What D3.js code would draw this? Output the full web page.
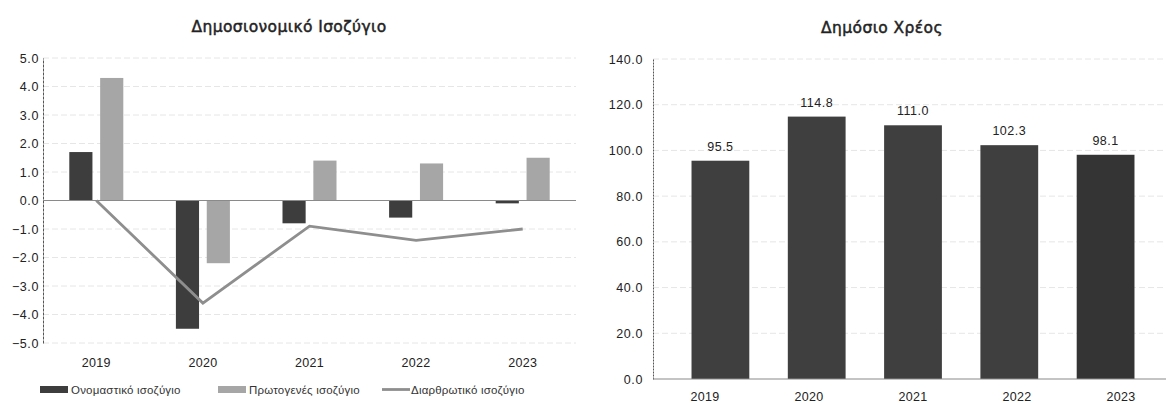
<!DOCTYPE html>
<html>
<head>
<meta charset="utf-8">
<script src="https://cdn.jsdelivr.net/npm/d3@7"></script>
<style>
  html, body { margin: 0; padding: 0; background: #fff; }
  svg { display: block; }
</style>
</head>
<body>
<svg id="chart" width="1166" height="403"></svg>
<script>
// ---- data ----
const years = ["2019", "2020", "2021", "2022", "2023"];
const nominalBalance = [1.7, -4.5, -0.8, -0.6, -0.1];
const primaryBalance = [4.3, -2.2, 1.4, 1.3, 1.5];
const structuralBalance = [0.0, -3.6, -0.9, -1.4, -1.0];
const publicDebt = [95.5, 114.8, 111.0, 102.3, 98.1];
const balanceTicks = [-5, -4, -3, -2, -1, 0, 1, 2, 3, 4, 5];
const debtTicks = [0, 20, 40, 60, 80, 100, 120, 140];
const leftTitle = "Δημοσιονομικό Ισοζύγιο";
const rightTitle = "Δημόσιο Χρέος";
const legendLabels = ["Ονομαστικό ισοζύγιο", "Πρωτογενές ισοζύγιο", "Διαρθρωτικό ισοζύγιο"];

const svg = d3.select("#chart");
const tickFont = "'Liberation Sans', Arial, sans-serif";
const titleFont = "'DejaVu Sans', Verdana, sans-serif";

// ================= LEFT CHART =================
const L = { x0: 43, x1: 576, yTop: 58, yBot: 343 };
const xL = d3.scaleBand().domain(years).range([L.x0, L.x1]);
const yL = d3.scaleLinear().domain([-5, 5]).range([L.yBot, L.yTop]);
const sub = d3.scaleBand().domain(["nom", "pri"]).range([-27, 27]).paddingInner(0.25);

const gL = svg.append("g");

// gridlines
gL.selectAll("line.grid").data(balanceTicks.filter(t => t !== 0)).join("line")
  .attr("x1", L.x0).attr("x2", L.x1)
  .attr("y1", d => yL(d)).attr("y2", d => yL(d))
  .attr("stroke", "#e6e6e6").attr("stroke-width", 1).attr("stroke-dasharray", "6,3");

// y axis
const yAxisL = d3.axisLeft(yL).tickValues(balanceTicks).tickSize(0).tickPadding(4)
  .tickFormat(d3.format(".1f"));
const gyL = gL.append("g").attr("transform", `translate(${L.x0},0)`).call(yAxisL);
gyL.select(".domain").attr("stroke", "#555").attr("stroke-dasharray", "3,1");
gyL.selectAll("text").attr("font-family", tickFont).attr("font-size", 12.5)
  .attr("letter-spacing", 0.6).attr("fill", "#222");

// bars
const cx = d => xL(d) + xL.bandwidth() / 2;
gL.selectAll("rect.nom").data(years).join("rect")
  .attr("x", (d) => cx(d) + sub("nom"))
  .attr("width", sub.bandwidth())
  .attr("y", (d, i) => yL(Math.max(0, nominalBalance[i])))
  .attr("height", (d, i) => Math.abs(yL(nominalBalance[i]) - yL(0)))
  .attr("fill", "#3d3d3d");
gL.selectAll("rect.pri").data(years).join("rect")
  .attr("x", (d) => cx(d) + sub("pri"))
  .attr("width", sub.bandwidth())
  .attr("y", (d, i) => yL(Math.max(0, primaryBalance[i])))
  .attr("height", (d, i) => Math.abs(yL(primaryBalance[i]) - yL(0)))
  .attr("fill", "#a6a6a6");

// zero line
gL.append("line").attr("x1", L.x0).attr("x2", L.x1)
  .attr("y1", yL(0)).attr("y2", yL(0)).attr("stroke", "#8a8a8a").attr("stroke-width", 1.2);

// structural line
const lineGen = d3.line().x((d, i) => cx(years[i])).y(d => yL(d));
gL.append("path").datum(structuralBalance).attr("d", lineGen)
  .attr("fill", "none").attr("stroke", "#8e8e8e").attr("stroke-width", 2.8);

// x labels
gL.selectAll("text.xl").data(years).join("text")
  .attr("x", d => cx(d)).attr("y", 367).attr("text-anchor", "middle")
  .attr("font-family", tickFont).attr("font-size", 12.5).attr("letter-spacing", 0.3)
  .attr("fill", "#222").text(d => d);

// title
gL.append("text").attr("x", 289).attr("y", 32).attr("text-anchor", "middle")
  .attr("font-family", titleFont).attr("font-size", 15.5)
  .attr("stroke", "#222").attr("stroke-width", 0.45).attr("letter-spacing", 0.4)
  .attr("fill", "#222").text(leftTitle);

// legend
const legY = 390;
const legItems = [
  { type: "rect", color: "#3d3d3d", sx: 40, tx: 71 },
  { type: "rect", color: "#a6a6a6", sx: 218, tx: 249 },
  { type: "line", color: "#8e8e8e", sx: 382, tx: 411 }
];
legItems.forEach((it, i) => {
  if (it.type === "rect") {
    gL.append("rect").attr("x", it.sx).attr("y", legY - 4).attr("width", 28).attr("height", 7).attr("fill", it.color);
  } else {
    gL.append("line").attr("x1", it.sx).attr("x2", it.sx + 28).attr("y1", legY - 0.5).attr("y2", legY - 0.5)
      .attr("stroke", it.color).attr("stroke-width", 2.8);
  }
  gL.append("text").attr("x", it.tx).attr("y", legY + 4)
    .attr("font-family", tickFont).attr("font-size", 11.5).attr("letter-spacing", 0.2)
    .attr("fill", "#333").text(legendLabels[i]);
});

// ================= RIGHT CHART =================
const R = { x0: 653, x1: 1173, yTop: 59, yBot: 379 };
const xR = d3.scaleBand().domain(years).range([R.x0, R.x1]).padding(0.4);
const xRc = d3.scaleBand().domain(years).range([R.x0, R.x1]);
const yR = d3.scaleLinear().domain([0, 140]).range([R.yBot, R.yTop]);
const gR = svg.append("g");

gR.selectAll("line.grid").data(debtTicks.filter(t => t !== 0)).join("line")
  .attr("x1", R.x0).attr("x2", 1166)
  .attr("y1", d => yR(d)).attr("y2", d => yR(d))
  .attr("stroke", "#e6e6e6").attr("stroke-width", 1).attr("stroke-dasharray", "6,3");

const yAxisR = d3.axisLeft(yR).tickValues(debtTicks).tickSize(0).tickPadding(10)
  .tickFormat(d3.format(".1f"));
const gyR = gR.append("g").attr("transform", `translate(${R.x0},0)`).call(yAxisR);
gyR.select(".domain").attr("stroke", "#555").attr("stroke-dasharray", "2,1");
gyR.selectAll("text").attr("font-family", tickFont).attr("font-size", 12.5)
  .attr("letter-spacing", 0.6).attr("fill", "#222");

gR.selectAll("rect.debt").data(years).join("rect")
  .attr("x", d => xR(d)).attr("width", xR.bandwidth())
  .attr("y", (d, i) => yR(publicDebt[i]))
  .attr("height", (d, i) => yR(0) - yR(publicDebt[i]))
  .attr("fill", (d, i) => i === 4 ? "#343434" : "#3f3f3f");

gR.append("line").attr("x1", R.x0).attr("x2", 1166)
  .attr("y1", yR(0)).attr("y2", yR(0)).attr("stroke", "#8a8a8a").attr("stroke-width", 1.2);

gR.selectAll("text.val").data(years).join("text")
  .attr("x", d => xR(d) + xR.bandwidth() / 2)
  .attr("y", (d, i) => yR(publicDebt[i]) - 10)
  .attr("text-anchor", "middle").attr("font-family", tickFont).attr("font-size", 12.5)
  .attr("letter-spacing", 0.5).attr("fill", "#222")
  .text((d, i) => d3.format(".1f")(publicDebt[i]));

gR.selectAll("text.xl").data(years).join("text")
  .attr("x", d => xRc(d) + xRc.bandwidth() / 2).attr("y", 401).attr("text-anchor", "middle")
  .attr("font-family", tickFont).attr("font-size", 12.5).attr("letter-spacing", 0.3)
  .attr("fill", "#222").text(d => d);

gR.append("text").attr("x", 882).attr("y", 33).attr("text-anchor", "middle")
  .attr("font-family", titleFont).attr("font-size", 15.5)
  .attr("stroke", "#222").attr("stroke-width", 0.45).attr("letter-spacing", 0.4)
  .attr("fill", "#222").text(rightTitle);
</script>
</body>
</html>
